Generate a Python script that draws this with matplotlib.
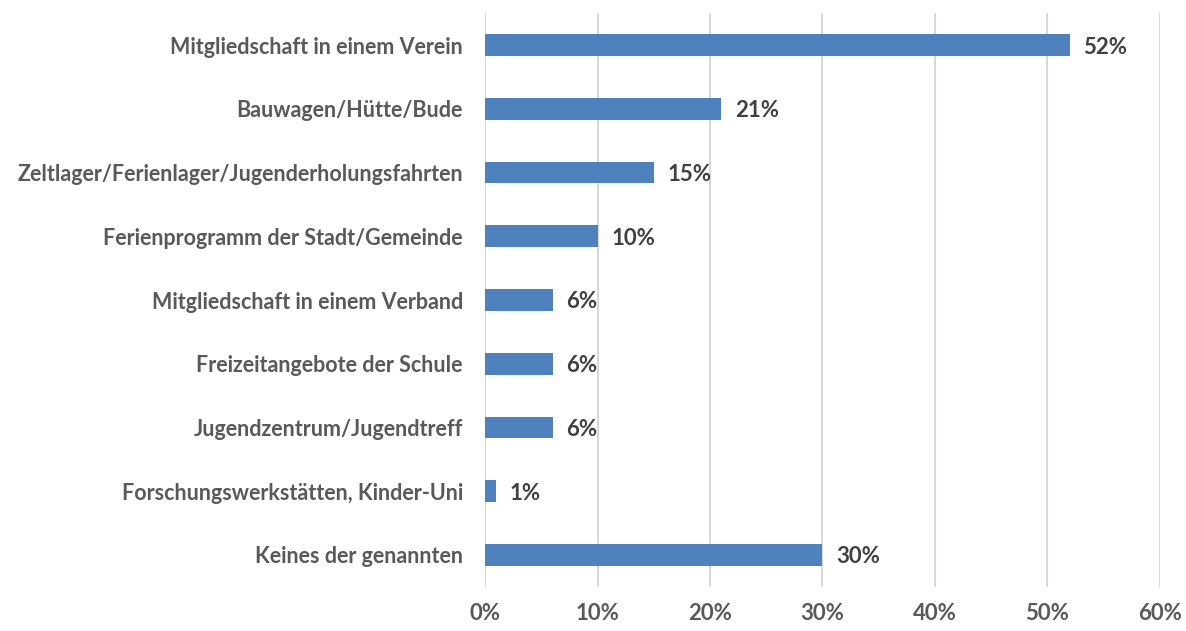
import matplotlib.pyplot as plt
from matplotlib.ticker import PercentFormatter

plt.rcParams['font.family'] = ['Lato', 'DejaVu Sans']

categories = ['Mitgliedschaft in einem Verein', 'Bauwagen/Hütte/Bude',
              'Zeltlager/Ferienlager/Jugenderholungsfahrten',
              'Ferienprogramm der Stadt/Gemeinde', 'Mitgliedschaft in einem Verband',
              'Freizeitangebote der Schule', 'Jugendzentrum/Jugendtreff',
              'Forschungswerkstätten, Kinder-Uni', 'Keines der genannten']
values = [52, 21, 15, 10, 6, 6, 6, 1, 30]

fig = plt.figure(figsize=(11.86, 6.31), dpi=100)
ax = fig.add_axes([0.409, 0.070, 0.569, 0.909])

y = range(len(categories))
ax.barh(y, values, height=0.34, color='#4F81BD', zorder=3)

for i, v in enumerate(values):
    ax.text(v + 1.2, i + 0.03, f'{v}%', va='center', ha='left', fontsize=16,
            fontweight='bold', color='#404040')

ax.set_xlim(0, 60)
ax.set_ylim(len(categories) - 0.5, -0.5)
ax.set_xticks(range(0, 61, 10))
ax.xaxis.set_major_formatter(PercentFormatter(decimals=0))
ax.set_yticks(list(y))
ax.set_yticklabels(categories)
ax.grid(axis='x', color='#D9D9D9', linewidth=1.5, zorder=0)
for s in ax.spines.values():
    s.set_visible(False)
ax.tick_params(axis='both', length=0, labelsize=15.5, labelcolor='#595959')
ax.tick_params(axis='x', labelsize=16, pad=12)
ax.tick_params(axis='y', pad=16)
for lbl in ax.get_xticklabels() + ax.get_yticklabels():
    lbl.set_fontweight('bold')

fig.savefig('out.png', dpi=100)
